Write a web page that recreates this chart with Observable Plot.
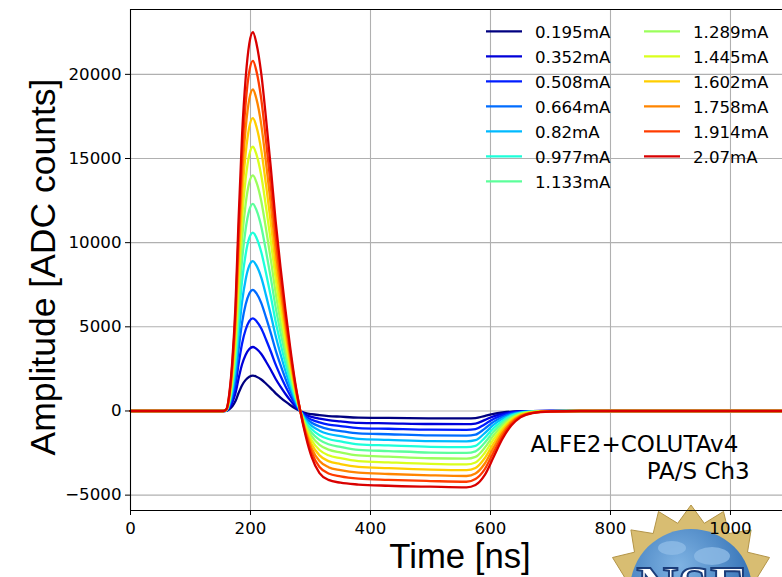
<!DOCTYPE html>
<html><head><meta charset="utf-8">
<script src="https://cdn.jsdelivr.net/npm/d3@7"></script>
<script src="https://cdn.jsdelivr.net/npm/@observablehq/plot@0.6"></script>
<style>
html,body{margin:0;padding:0;background:#fff;overflow:hidden;}
#wrap{position:relative;width:782px;height:577px;overflow:hidden;}
#logo,#chart{position:absolute;left:0;top:0;}
</style></head>
<body><div id="wrap">
<svg id="logo" width="782" height="577">
  <defs>
    <radialGradient id="gl" cx="0.4" cy="0.3" r="0.8">
      <stop offset="0" stop-color="#7fb3e3"/>
      <stop offset="1" stop-color="#1d5ea8"/>
    </radialGradient>
  </defs>
  <polygon id="spikes" fill="#d8bd72" stroke="#b39447" stroke-width="1"/>
  <circle cx="691" cy="590" r="61" fill="url(#gl)"/>
  <ellipse cx="672" cy="548" rx="14" ry="7" fill="#8fbce6" opacity="0.8"/>
  <ellipse cx="712" cy="556" rx="18" ry="9" fill="#8fbce6" opacity="0.8"/>
  <text x="691" y="606" text-anchor="middle" font-family="Liberation Serif" font-weight="bold" font-size="58" fill="#fff" stroke="#1b3d7a" stroke-width="2">NSF</text>
</svg>
<div id="chart"></div>
</div>
<script>
const times = [0, 155, 160, 165, 170, 175, 180, 186, 192, 198, 204, 210, 218, 226, 234, 242, 250, 258, 266, 274, 283, 292, 302, 315, 330, 350, 380, 430, 500, 560, 575, 590, 605, 620, 635, 650, 670, 700, 750, 850, 1100];
const currents = ["0.195mA","0.352mA","0.508mA","0.664mA","0.82mA","0.977mA","1.133mA","1.289mA","1.445mA","1.602mA","1.758mA","1.914mA","2.07mA"];
const colors = ["#000080","#0000d9","#001dff","#006cff","#00baff","#1dffda","#5cff9b","#9bff5c","#daff1d","#ffce00","#ff8500","#ff3c00","#d90000"];
const xTicks = [0, 200, 400, 600, 800, 1000];
const yTicks = [-5000, 0, 5000, 10000, 15000, 20000];

const s0 = [0,0,10,105,294,588,1050,1533,1848,2037,2100,2037,1869,1617,1344,1050,798,567,357,168,0,-122,-191,-248,-300,-339,-392,-409,-435,-440,-420,-300,-170,-91,-39,-15,-4,0,0,0,0];
const s1 = [0,0,19,190,532,1064,1900,2774,3344,3686,3800,3686,3382,2926,2432,1900,1444,1026,646,304,0,-220,-351,-457,-548,-615,-701,-731,-774,-782,-751,-544,-316,-173,-76,-29,-9,-1,0,0,0];
const s2 = [0,0,28,275,770,1540,2750,4015,4840,5335,5500,5335,4895,4235,3520,2750,2090,1485,935,440,0,-321,-521,-681,-809,-899,-1015,-1055,-1113,-1124,-1080,-798,-475,-263,-119,-47,-14,-2,0,0,0];
const s3 = [0,0,36,360,1008,2016,3600,5256,6336,6984,7200,6984,6408,5544,4608,3600,2736,1944,1224,576,0,-425,-701,-918,-1082,-1194,-1333,-1382,-1452,-1467,-1409,-1060,-646,-362,-167,-68,-21,-3,0,0,0];
const s4 = [0,0,45,445,1246,2492,4450,6497,7832,8633,8900,8633,7921,6853,5696,4450,3382,2403,1513,712,0,-532,-890,-1170,-1367,-1497,-1655,-1712,-1791,-1809,-1738,-1332,-831,-469,-220,-91,-28,-5,0,0,0];
const s5 = [0,0,53,530,1484,2968,5300,7738,9328,10282,10600,10282,9434,8162,6784,5300,4028,2862,1802,848,0,-641,-1088,-1436,-1666,-1811,-1981,-2045,-2130,-2151,-2068,-1612,-1027,-586,-279,-117,-36,-6,0,0,0];
const s6 = [0,0,62,615,1722,3444,6150,8979,10824,11931,12300,11931,10947,9471,7872,6150,4674,3321,2091,984,0,-753,-1296,-1716,-1975,-2133,-2311,-2380,-2469,-2494,-2398,-1904,-1235,-714,-346,-146,-46,-8,0,0,0];
const s7 = [0,0,70,700,1960,3920,7000,10220,12320,13580,14000,13580,12460,10780,8960,7000,5320,3780,2380,1120,0,-868,-1514,-2011,-2297,-2463,-2642,-2715,-2808,-2836,-2727,-2201,-1457,-848,-416,-177,-56,-10,0,0,0];
const s8 = [0,0,79,785,2198,4396,7850,11461,13816,15229,15700,15229,13973,12089,10048,7850,5966,4239,2669,1256,0,-985,-1740,-2319,-2633,-2803,-2979,-3055,-3146,-3177,-3057,-2507,-1689,-991,-491,-211,-67,-13,0,0,0];
const s9 = [0,0,87,870,2436,4872,8700,12702,15312,16878,17400,16878,15486,13398,11136,8700,6612,4698,2958,1392,0,-1106,-1978,-2640,-2980,-3154,-3321,-3398,-3485,-3520,-3387,-2826,-1938,-1143,-572,-249,-79,-16,0,0,0];
const s10 = [0,0,96,955,2674,5348,9550,13943,16808,18527,19100,18527,16999,14707,12224,9550,7258,5157,3247,1528,0,-1231,-2226,-2975,-3338,-3514,-3667,-3744,-3824,-3862,-3716,-3151,-2195,-1304,-662,-291,-93,-20,0,0,0];
const s11 = [0,0,104,1040,2912,5824,10400,15184,18304,20176,20800,20176,18512,16016,13312,10400,7904,5616,3536,1664,0,-1357,-2481,-3326,-3713,-3884,-4017,-4092,-4163,-4205,-4046,-3489,-2469,-1474,-754,-333,-107,-25,0,0,0];
const s12 = [0,0,113,1125,3150,6300,11250,16425,19800,21825,22500,21825,20025,17325,14400,11250,8550,6075,3825,1800,0,-1485,-2745,-3690,-4095,-4262,-4370,-4442,-4500,-4540,-4400,-3830,-2750,-1652,-851,-378,-122,-30,0,0,0];
const series = [s0,s1,s2,s3,s4,s5,s6,s7,s8,s9,s10,s11,s12];

const rows = [];
currents.forEach((c, i) => times.forEach((t, j) => rows.push({t, v: series[i][j], label: c})));

const xDom = [0, 1086.7], yDom = [-5913, 23853];
const fmt = d3.format("d");

const plot = Plot.plot({
  width: 782, height: 577,
  marginLeft: 130, marginRight: 0, marginTop: 9, marginBottom: 67,
  style: {background: "transparent", fontFamily: "DejaVu Sans", fontSize: "16.67px", color: "black", overflow: "visible"},
  x: {domain: xDom, label: null},
  y: {domain: yDom, label: null},
  color: {domain: currents, range: colors},
  marks: [
    Plot.gridX(xTicks.slice(1), {stroke: "#b0b0b0", strokeOpacity: 1, strokeWidth: 1.1}),
    Plot.gridY(yTicks, {stroke: "#b0b0b0", strokeOpacity: 1, strokeWidth: 1.1}),
    Plot.line(rows, {x: "t", y: "v", z: "label", stroke: "label", strokeWidth: 2.3, curve: "monotone-x"}),
    Plot.ruleX([xDom[0]], {stroke: "#000", strokeWidth: 1.1}),
    Plot.ruleY([yDom[0]], {stroke: "#000", strokeWidth: 1.1}),
    Plot.ruleY([yDom[1]], {stroke: "#000", strokeWidth: 1.1}),
    Plot.axisX(xTicks, {tickSize: 5, tickPadding: 7, tickFormat: fmt, label: null, stroke: "#000", fill: "#000"}),
    Plot.axisY(yTicks, {tickSize: 5, tickPadding: 4, tickFormat: fmt, label: null, stroke: "#000", fill: "#000"})
  ]
});
document.getElementById("chart").appendChild(plot);

const svg = d3.select(plot);
// axis titles
svg.append("text").attr("x", 460).attr("y", 568).attr("text-anchor", "middle")
  .attr("font-family", "Liberation Sans").attr("font-size", "34.7px").attr("fill", "#000").text("Time [ns]");
svg.append("text").attr("transform", "translate(55,267) rotate(-90)").attr("text-anchor", "middle")
  .attr("font-family", "Liberation Sans").attr("font-size", "35.5px").attr("fill", "#000").text("Amplitude [ADC counts]");
// annotation
svg.append("text").attr("x", 530.5).attr("y", 451.7).attr("text-anchor", "start").attr("font-family", "DejaVu Sans").attr("font-size", "23px").attr("fill", "#000").text("ALFE2+COLUTAv4");
svg.append("text").attr("x", 646.7).attr("y", 479.3).attr("text-anchor", "start").attr("font-family", "DejaVu Sans").attr("font-size", "23px").attr("fill", "#000").text("PA/S Ch3");
// legend
const lg = svg.append("g").attr("font-family", "DejaVu Sans").attr("font-size", "16.67px").attr("fill", "#000").attr("text-anchor", "start");
currents.forEach((c, i) => {
  const col = i < 7 ? 0 : 1, row = i < 7 ? i : i - 7;
  const x0 = col ? 644 : 486, y = 31.3 + row * 25;
  lg.append("line").attr("x1", x0).attr("x2", x0 + 36).attr("y1", y).attr("y2", y)
    .attr("stroke", colors[i]).attr("stroke-width", 2.3);
  lg.append("text").attr("x", x0 + 49).attr("y", y).attr("dy", "0.42em").text(c);
});

// NSF logo spikes
const pts = [];
const N = 16, cx = 691, cy = 590;
for (let k = 0; k < 2 * N; k++) {
  const a = -Math.PI / 2 + k * Math.PI / N;
  const r = k % 2 === 0 ? 85 : 68;
  pts.push((cx + r * Math.cos(a)).toFixed(1) + "," + (cy + r * Math.sin(a)).toFixed(1));
}
document.getElementById("spikes").setAttribute("points", pts.join(" "));
</script>
</body></html>
